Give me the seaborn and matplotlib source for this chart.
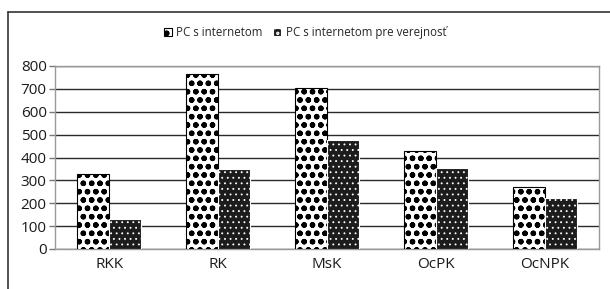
import pandas as pd
import matplotlib
matplotlib.use("Agg")
import matplotlib.pyplot as plt
import seaborn as sns
from matplotlib.lines import Line2D

# data
regions = ["RKK", "RK", "MsK", "OcPK", "OcNPK"]
pc_internet = [330, 763, 705, 428, 269]
pc_public = [132, 349, 475, 354, 224]
series_names = ["PC s internetom", "PC s internetom pre verejnosť"]
y_ticks = [0, 100, 200, 300, 400, 500, 600, 700, 800]

df = pd.DataFrame({
    "region": regions * 2,
    "value": pc_internet + pc_public,
    "series": [series_names[0]] * len(regions) + [series_names[1]] * len(regions),
})

sns.set_style("white")
plt.rcParams["font.family"] = ["Open Sans", "DejaVu Sans"]
plt.rcParams["hatch.linewidth"] = 1.6

fig = plt.figure(figsize=(6.10, 2.89), dpi=100)
ax = fig.add_axes([55 / 610, 40 / 289, 544 / 610, 183 / 289])

sns.barplot(data=df, x="region", y="value", hue="series", ax=ax,
            palette=["white", "#1c1c1c"], width=0.59, gap=0, saturation=1,
            edgecolor="#222222", linewidth=0.8, legend=False, zorder=3)

# patterns: black spots on white, white dots on black
for bar in ax.containers[0]:
    bar.set_facecolor("white")
    bar.set_hatch("oo")
    bar.set_edgecolor("black")
for bar in ax.containers[1]:
    bar.set_facecolor("#1c1c1c")
    if hasattr(bar, "set_hatch_linewidth"):
        bar.set_hatch_linewidth(0.6)
    bar.set_hatch("...")
    if hasattr(bar, "set_hatchcolor"):
        bar.set_hatchcolor("white")
        bar.set_edgecolor("#1c1c1c")
    else:
        bar.set_edgecolor("white")

ax.set_ylim(0, 800)
ax.set_xlim(-0.5, len(regions) - 0.5)
ax.set_yticks(y_ticks)
ax.set_xlabel("")
ax.set_ylabel("")
ax.yaxis.grid(True, color="#2a2a2a", linewidth=1.0, zorder=0)
ax.set_axisbelow(True)

for s in ax.spines.values():
    s.set_color("#999999")
    s.set_linewidth(1.0)
    s.set_visible(True)

ax.set_xticks([i - 0.5 for i in range(len(regions) + 1)], minor=True)
ax.tick_params(axis="x", which="major", length=0, labelsize=11, pad=6, colors="#1a1a1a")
ax.tick_params(axis="x", which="minor", length=4, width=1, color="#777777", direction="out")
ax.tick_params(axis="y", length=4, width=1, color="#777777", direction="out",
               labelsize=11, pad=2, labelcolor="#1a1a1a")
ax.tick_params(axis="both", bottom=True, left=True)

# legend at top center
handles = [ax.containers[0][0], ax.containers[1][0]]
fig.legend(handles, series_names, loc="center", bbox_to_anchor=(0.5, 1 - 33 / 289),
           ncol=2, frameon=False, fontsize=8.3, handlelength=0.7, handleheight=0.7,
           handletextpad=0.4, columnspacing=0.9)

# outer chart frame (left and top edges visible)
fig.add_artist(Line2D([8 / 610, 8 / 610], [0, 1 - 12 / 289], transform=fig.transFigure,
                      color="#333333", linewidth=1.2))
fig.add_artist(Line2D([8 / 610, 1.0], [1 - 12 / 289, 1 - 12 / 289], transform=fig.transFigure,
                      color="#333333", linewidth=1.2))

fig.savefig("out.png", dpi=100)
